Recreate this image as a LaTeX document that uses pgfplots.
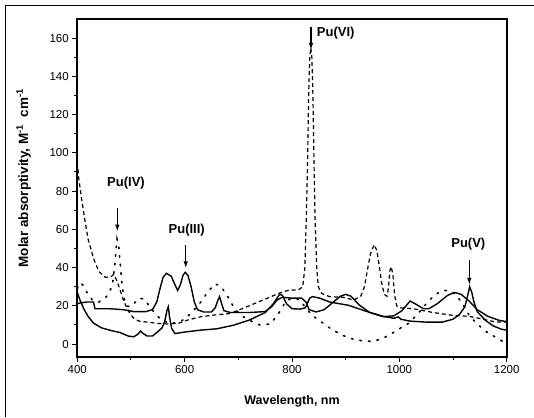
\documentclass[border=0pt]{standalone}
\usepackage{pgfplots}
\pgfplotsset{compat=1.18}
\usepackage{fontspec}
\setmainfont{Liberation Sans}
\usetikzlibrary{arrows.meta}

\pgfplotstableread{
x y
400 95
403 86
408 76
414 65
420 55
430 45
440 38
452 35
462 35
468 36.5
474 33
480 28
486 23
492 19
498 16
505 13.5
515 12
530 11.5
550 10.8
570 10.5
590 11
605 12.5
630 14.3
655 15.2
685 16
720 20
750 23.5
775 26.5
795 28.3
812 28.3
820 30
824 40
827 70
829 95
831 130
833 150
835 155
837 150
839 130
841 95
843 65
846 40
849 30
855 26.5
870 24.8
895 24.5
915 23
928 25
935 30
940 38
946 47
953 52
958 49
963 40
967 32
972 26
977 25
980 30
982 38
985 40.5
988 36
991 26
995 20
1000 19
1026 18.5
1063 16.5
1100 15
1130 14.5
1156 13
1180 11.5
1200 11.5
}\puvi

\pgfplotstableread{
x y
400 29
405 32
410 31
418 27
428 23
440 22
452 24
460 27
466 32
470 42
474 55
477 52
480 42
483 32
487 24
492 20
498 19.5
505 21
515 24
525 23.5
535 19.5
545 16
555 13
570 11
585 11
600 13
615 17
630 22
645 28
657 31.5
668 30
680 25
692 19
705 15
720 12.5
740 10
760 10.5
775 16
790 23
805 24
815 23
828 18
840 14.5
855 11.5
875 7.5
895 4.5
915 2.5
935 1.5
950 1.5
965 2.5
983 5
1000 8
1018 11
1035 16
1050 21
1065 25.5
1080 28
1092 28
1105 26
1118 21
1130 15
1145 10.5
1162 6.5
1180 3.5
1195 1
1200 0.5
}\puiv

\pgfplotstableread{
x y
400 21
405 21.5
418 22
430 22
433 18.5
460 18.5
485 18
505 17
528 17
540 18
548 22
555 30
560 35
566 37
575 35.5
582 31
587 28
592 31
597 36
601 37.5
606 36
612 30
618 22
624 18
635 16.8
650 16.8
657 19
662 23
665 24.8
668 22
673 17.5
685 16.5
720 16.5
750 17
762 19.5
772 23
782 24.5
800 24
818 24
826 22
832 18
845 16.8
860 18
875 21.5
890 25
900 26
910 25
925 20.5
945 16.5
970 14.3
990 14.8
1005 17.5
1020 22.5
1030 21
1045 18.5
1055 18.5
1070 21
1090 25.5
1103 27
1115 26
1130 22.5
1145 18
1165 14.5
1185 12.5
1200 11.7
}\puiii

\pgfplotstableread{
x y
400 27
405 23
412 18.5
420 14.5
430 11
445 8.5
460 7.3
480 6
495 4.2
505 3.8
512 5
518 6.8
523 5.5
530 4.2
540 4.2
550 6.5
558 8.5
563 12
567 17.5
569.5 19.5
572 14
576 8
582 5.5
600 6.3
630 7.3
660 8
690 9.8
720 12.5
750 16.5
765 21
772 24
777 26
782 25.5
790 21
800 18.5
815 18.3
825 19
833 24
838 24.8
852 24
870 22
905 20.3
940 17
970 14.5
990 13.5
998 14.2
1003 13
1020 12
1050 11.5
1080 11.5
1100 13
1112 15.5
1122 19.5
1127 25
1131 30
1135 27
1139 22
1145 17
1160 12.5
1175 9.5
1190 7.8
1200 7.3
}\puv

\begin{document}
\begin{tikzpicture}
\useasboundingbox (0pt,0pt) rectangle (534pt,417pt);
\draw[line width=0.8pt] (5.5pt,0pt) -- (5.5pt,411.5pt) -- (534pt,411.5pt);
\begin{axis}[
  at={(77.3pt,60.3pt)}, anchor=south west,
  scale only axis, width=429.4pt, height=337.7pt,
  xmin=400, xmax=1200, ymin=-6.6, ymax=170,
  xtick={400,600,...,1200}, ytick={0,20,...,160},
  minor x tick num=1, minor y tick num=1,
  xtick pos=bottom, ytick pos=left,
  tick align=outside, major tick length=5pt, minor tick length=3pt,
  every tick/.style={line width=1pt, black},
  axis line style={line width=1.7pt, black},
  axis on top,
  /pgf/number format/assume math mode=true,
  /pgf/number format/1000 sep={},
  tick label style={font=\fontsize{11.5}{13}\selectfont},
  xlabel={\textbf{Wavelength, nm}},
  ylabel={\textbf{Molar absorptivity, M\textsuperscript{-1}\ \ cm\textsuperscript{-1}}},
  xlabel style={font=\fontsize{12.5}{14}\selectfont, at={(axis description cs:0.5,-0.133)}, anchor=center},
  ylabel style={font=\fontsize{13.5}{15}\selectfont, at={(axis description cs:-0.125,0.529)}, anchor=center},
]
\addplot[black, line width=1.2pt, dash pattern=on 4pt off 3pt] table[x=x,y=y] {\puvi};
\addplot[black, line width=1.6pt, dash pattern=on 1.6pt off 7pt, line cap=round] table[x=x,y=y] {\puiv};
\addplot[black, line width=1.4pt] table[x=x,y=y] {\puiii};
\addplot[black, line width=1.4pt] table[x=x,y=y] {\puv};

\node[font=\bfseries\fontsize{13}{15}\selectfont] at (axis cs:490.7,84.1) {Pu(IV)};
\node[font=\bfseries\fontsize{13}{15}\selectfont] at (axis cs:603.8,59.7) {Pu(III)};
\node[font=\bfseries\fontsize{13}{15}\selectfont, anchor=west, inner sep=0pt] at (axis cs:846,162.6) {Pu(VI)};
\node[font=\bfseries\fontsize{13}{15}\selectfont] at (axis cs:1128.5,52.2) {Pu(V)};
\draw[line width=1.2pt, -{Latex[length=7pt,width=4.5pt]}] (axis cs:474.5,71) -- (axis cs:474.5,58.8);
\draw[line width=1.2pt, -{Latex[length=7pt,width=4.5pt]}] (axis cs:602,51.8) -- (axis cs:602,39.6);
\draw[line width=1.2pt, -{Latex[length=7pt,width=4.5pt]}] (axis cs:835.4,166) -- (axis cs:835.4,153.8);
\draw[line width=1.2pt, -{Latex[length=7pt,width=4.5pt]}] (axis cs:1130.4,44) -- (axis cs:1130.4,30.9);
\end{axis}
\end{tikzpicture}
\end{document}
